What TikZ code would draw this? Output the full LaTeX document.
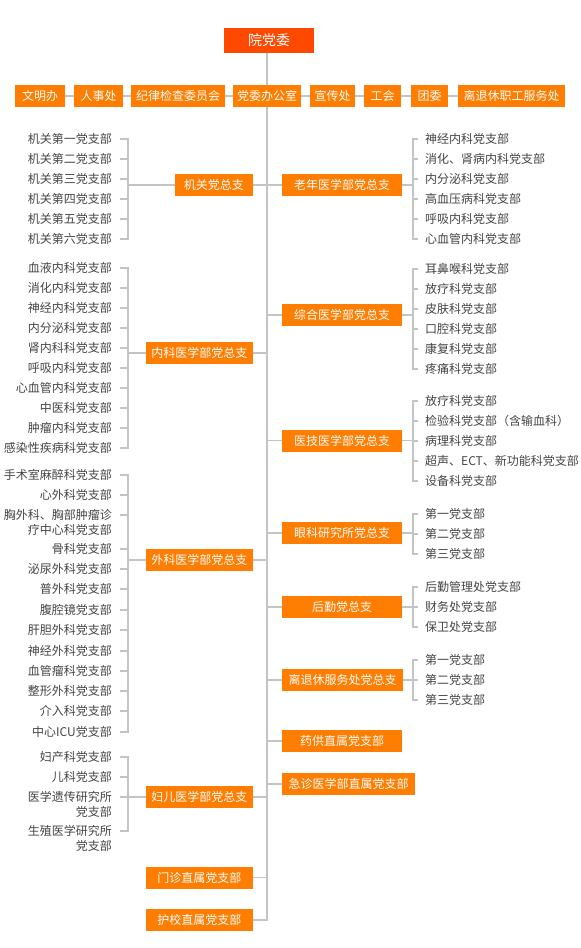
\documentclass[tikz,border=0pt]{standalone}
\usepackage{fontspec}
\setmainfont{Noto Sans CJK SC}
\usetikzlibrary{positioning}
\definecolor{orgc}{HTML}{FF7D00}
\definecolor{redc}{HTML}{FF4800}
\definecolor{lnc}{HTML}{C4C4C4}
\definecolor{txc}{HTML}{444444}
\newcommand\leafsize{\fontsize{12}{15}\selectfont}
\newcommand\twol[2]{\begin{tabular}[t]{@{}r@{}}#1\\#2\end{tabular}}

\begin{document}
\begin{tikzpicture}[x=1pt,y=-1pt,font=\leafsize,
  ob/.style={fill=orgc,text=white,inner xsep=5.5pt,inner ysep=0pt,minimum height=22pt},
  tb/.style={ob,inner xsep=2pt,outer sep=0pt},
  bl/.style={ob,anchor=east,minimum width=107pt},
  br/.style={ob,anchor=west,minimum width=120pt,inner xsep=6.5pt},
  lfl/.style={text=txc,anchor=base east,inner xsep=8pt,inner ysep=0pt},
  lfr/.style={text=txc,anchor=base west,inner xsep=7pt,inner ysep=0pt},
  con/.style={draw=lnc,line width=1.8pt}]
\useasboundingbox (0,0) rectangle (581,948);
\node[ob,fill=redc,font=\fontsize{14}{16}\selectfont,minimum width=90pt,minimum height=25pt] (yw) at (269,40.5) {院党委};
\node[tb,anchor=west,minimum width=50pt] (wm) at (15,96) {文明办};
\node[tb,right=9pt of wm,minimum width=49pt] (rs) {人事处};
\node[tb,right=8pt of rs,minimum width=94pt] (jw) {纪律检查委员会};
\node[tb,right=8pt of jw,minimum width=68pt] (db) {党委办公室};
\node[tb,right=9pt of db,minimum width=45pt] (xc) {宣传处};
\node[tb,right=9pt of xc,minimum width=37pt] (gh) {工会};
\node[tb,right=10pt of gh,minimum width=37pt] (tw) {团委};
\node[tb,right=10pt of tw,minimum width=107pt] (lt) {离退休职工服务处};

\node[bl,minimum width=78pt] (jgb) at (253,185) {机关党总支};
\node[bl] (nkb) at (253,353) {内科医学部党总支};
\node[bl] (wkb) at (253,560) {外科医学部党总支};
\node[bl] (feb) at (253,797) {妇儿医学部党总支};
\node[bl] (mzb) at (253,877.5) {门诊直属党支部};
\node[bl] (hxb) at (253,920) {护校直属党支部};
\node[br] (lnb) at (282,185) {老年医学部党总支};
\node[br] (zhb) at (282,315) {综合医学部党总支};
\node[br] (yjb) at (282,440.5) {医技医学部党总支};
\node[br] (ykb) at (282,533) {眼科研究所党总支};
\node[br] (hqb) at (282,607) {后勤党总支};
\node[br] (lxb) at (282,680) {离退休服务处党总支};
\node[br] (ygb) at (282,741) {药供直属党支部};
\node[br] (jzb) at (282,784) {急诊医学部直属党支部};

\foreach \t [count=\i] in {机关第一党支部,机关第二党支部,机关第三党支部,机关第四党支部,机关第五党支部,机关第六党支部}
  \node[lfl] (jg\i) at (120,123.5+20*\i) {\t};
\foreach \t [count=\i] in {血液内科党支部,消化内科党支部,神经内科党支部,内分泌科党支部,肾内科科党支部,呼吸内科党支部,心血管内科党支部,中医科党支部,肿瘤内科党支部,感染性疾病科党支部}
  \node[lfl] (nk\i) at (120,252.5+20*\i) {\t};
\foreach \y/\t [count=\i] in {475/手术室麻醉科党支部,495/心外科党支部,515/{\twol{胸外科、胸部肿瘤诊}{疗中心科党支部}},549/骨科党支部,569/泌尿外科党支部,589/普外科党支部,610/腹腔镜党支部,630/肝胆外科党支部,651/神经外科党支部,671/血管瘤科党支部,691/整形外科党支部,711/介入科党支部,732/中心ICU党支部}
  \node[lfl] (wk\i) at (120,\y+4.5) {\t};
\foreach \y/\t [count=\i] in {757/妇产科党支部,777/儿科党支部,797/{\twol{医学遗传研究所}{党支部}},831/{\twol{生殖医学研究所}{党支部}}}
  \node[lfl] (fe\i) at (120,\y+4.5) {\t};

\foreach \t [count=\i] in {神经内科党支部,消化、肾病内科党支部,内分泌科党支部,高血压病科党支部,呼吸内科党支部,心血管内科党支部}
  \node[lfr] (ln\i) at (418,123.5+20*\i) {\t};
\foreach \t [count=\i] in {耳鼻喉科党支部,放疗科党支部,皮肤科党支部,口腔科党支部,康复科党支部,疼痛科党支部}
  \node[lfr] (zh\i) at (418,253.5+20*\i) {\t};
\foreach \t [count=\i] in {放疗科党支部,检验科党支部（含输血科）,病理科党支部,超声、ECT、新功能科党支部,设备科党支部}
  \node[lfr] (yj\i) at (418,385.5+20*\i) {\t};
\foreach \t [count=\i] in {第一党支部,第二党支部,第三党支部}
  \node[lfr] (yk\i) at (418,498.5+20*\i) {\t};
\foreach \t [count=\i] in {后勤管理处党支部,财务处党支部,保卫处党支部}
  \node[lfr] (hq\i) at (418,571.5+20*\i) {\t};
\foreach \t [count=\i] in {第一党支部,第二党支部,第三党支部}
  \node[lfr] (lx\i) at (418,644.5+20*\i) {\t};

\draw[con] (yw.south -| db) -- (db);
\draw[con] (db) |- (hxb);
\draw[con] (wm) -- (rs) -- (jw) -- (db) -- (xc) -- (gh) -- (tw) -- (lt);
\foreach \b in {jgb,nkb,wkb,feb,mzb} \draw[con] (\b) -- (\b -| db);
\foreach \b in {lnb,zhb,yjb,ykb,hqb,lxb,ygb,jzb} \draw[con] (\b -| db) -- (\b);
\foreach \g/\n in {jg/6,nk/10,wk/13,fe/4}
  \foreach \i in {1,...,\n} \draw[con] ([yshift=4.5pt]\g\i.base east) -- ++(8,0) |- (\g b);
\foreach \g/\n in {ln/6,zh/6,yj/5,yk/3,hq/3,lx/3}
  \foreach \i in {1,...,\n} \draw[con] ([yshift=4.5pt]\g\i.base west) -- ++(-5,0) |- (\g b);
\end{tikzpicture}
\end{document}
